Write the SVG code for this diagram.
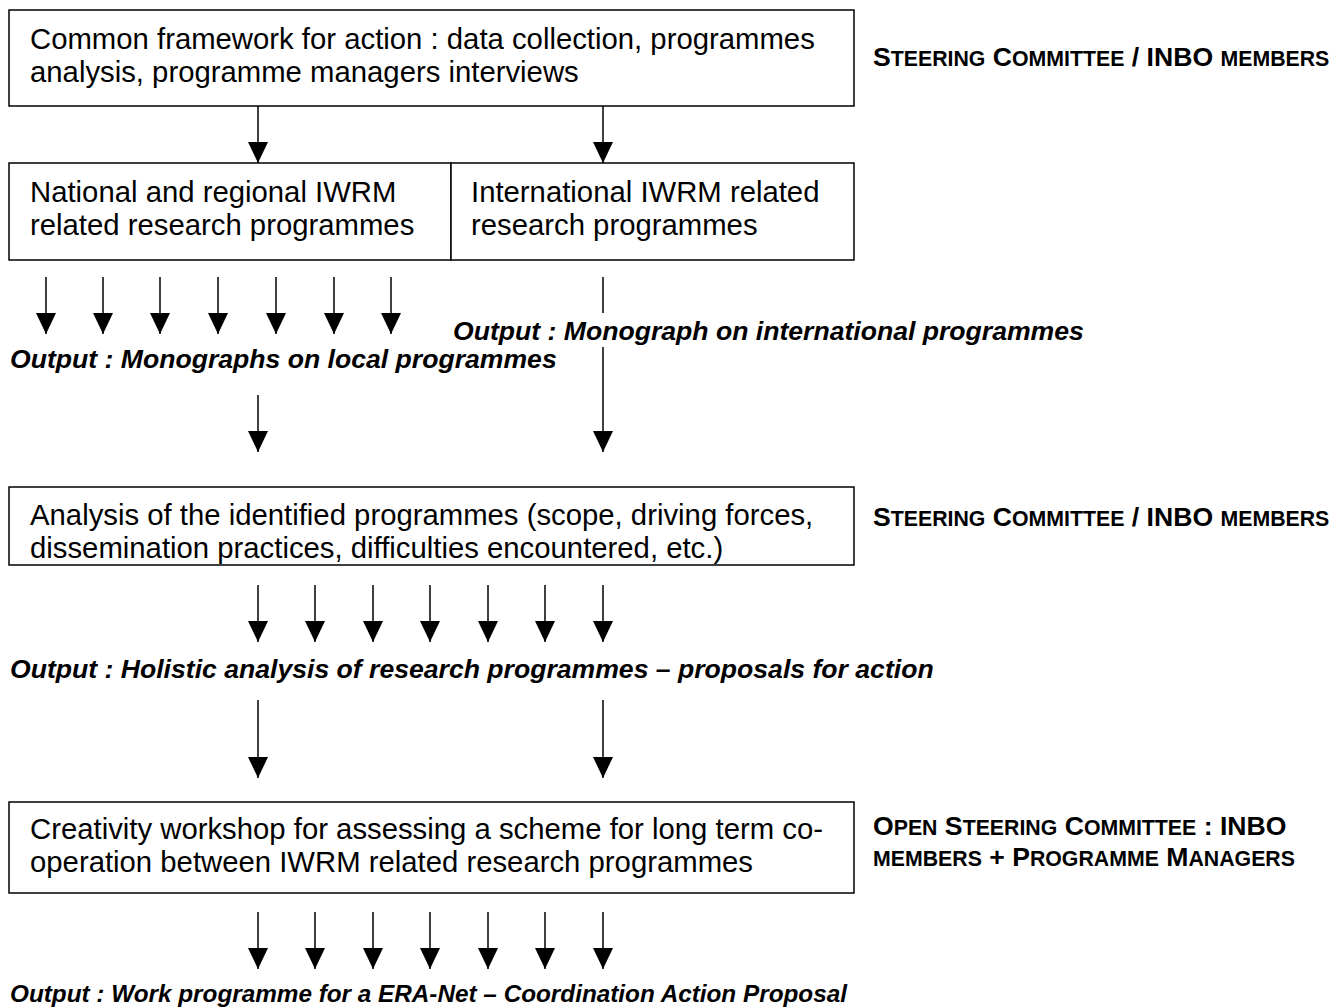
<svg xmlns="http://www.w3.org/2000/svg" width="1342" height="1007" viewBox="0 0 1342 1007">
<style>
.box{fill:#fff;stroke:#000;stroke-width:1.5}
.t{font-family:"Liberation Sans",Arial,sans-serif;font-size:29.3px;fill:#000}
.o{font-family:"Liberation Sans",Arial,sans-serif;font-size:26.6px;font-weight:bold;font-style:italic;fill:#000}
.r{font-family:"Liberation Sans",Arial,sans-serif;font-size:26.6px;font-weight:bold;fill:#000}
.sc{font-size:21.3px}
.c{stroke:#000;stroke-width:1.5;fill:none}
.a{marker-end:url(#ah)}
</style>
<defs>
<marker id="ah" markerUnits="userSpaceOnUse" markerWidth="22" markerHeight="24" refX="21" refY="10" orient="auto">
<path d="M0,0 L21,10 L0,20 Z" fill="#000"/>
</marker>
</defs>
<rect width="1342" height="1007" fill="#fff"/>

<g id="node-framework">
<rect class="box" x="9" y="10" width="845" height="96"/>
<text class="t" x="30" y="49">Common framework for action : data collection, programmes</text>
<text class="t" x="30" y="82">analysis, programme managers interviews</text>
</g>
<g id="label-steering-1">
<text class="r" x="873" y="66">S<tspan class="sc">TEERING</tspan> C<tspan class="sc">OMMITTEE</tspan> / INBO <tspan class="sc">MEMBERS</tspan></text>
</g>

<g id="node-national">
<rect class="box" x="9" y="163" width="442" height="97"/>
<text class="t" x="30" y="202">National and regional IWRM</text>
<text class="t" x="30" y="235">related research programmes</text>
</g>
<g id="node-international">
<rect class="box" x="451" y="163" width="403" height="97"/>
<text class="t" x="471" y="202">International IWRM related</text>
<text class="t" x="471" y="235">research programmes</text>
</g>

<g id="label-output-local">
<text class="o" x="10" y="368">Output : Monographs on local programmes</text>
</g>
<g id="label-output-international">
<text class="o" x="453" y="340">Output : Monograph on international programmes</text>
</g>

<g id="node-analysis">
<rect class="box" x="9" y="487" width="845" height="78"/>
<text class="t" x="30" y="525">Analysis of the identified programmes (scope, driving forces,</text>
<text class="t" x="30" y="558">dissemination practices, difficulties encountered, etc.)</text>
</g>
<g id="label-steering-2">
<text class="r" x="873" y="526">S<tspan class="sc">TEERING</tspan> C<tspan class="sc">OMMITTEE</tspan> / INBO <tspan class="sc">MEMBERS</tspan></text>
</g>

<g id="label-output-holistic">
<text class="o" x="10" y="678">Output : Holistic analysis of research programmes – proposals for action</text>
</g>

<g id="node-workshop">
<rect class="box" x="9" y="802" width="845" height="91"/>
<text class="t" x="30" y="839">Creativity workshop for assessing a scheme for long term co-</text>
<text class="t" x="30" y="872">operation between IWRM related research programmes</text>
</g>
<g id="label-open-steering">
<text class="r" x="873" y="835">O<tspan class="sc">PEN</tspan> S<tspan class="sc">TEERING</tspan> C<tspan class="sc">OMMITTEE</tspan> : INBO</text>
<text class="r" x="873" y="866"><tspan class="sc">MEMBERS</tspan> + P<tspan class="sc">ROGRAMME</tspan> M<tspan class="sc">ANAGERS</tspan></text>
</g>

<g id="label-output-work">
<text class="o" x="10" y="1002" style="font-size:24.3px">Output : Work programme for a ERA-Net – Coordination Action Proposal</text>
</g>

<g id="connectors">
<line class="c a" x1="258" y1="106" x2="258" y2="163"/>
<line class="c a" x1="603" y1="106" x2="603" y2="163"/>

<line class="c a" x1="46" y1="277" x2="46" y2="334"/>
<line class="c a" x1="103" y1="277" x2="103" y2="334"/>
<line class="c a" x1="160" y1="277" x2="160" y2="334"/>
<line class="c a" x1="218" y1="277" x2="218" y2="334"/>
<line class="c a" x1="276" y1="277" x2="276" y2="334"/>
<line class="c a" x1="334" y1="277" x2="334" y2="334"/>
<line class="c a" x1="391" y1="277" x2="391" y2="334"/>

<line class="c" x1="603" y1="277" x2="603" y2="313"/>
<line class="c a" x1="603" y1="347" x2="603" y2="452"/>
<line class="c a" x1="258" y1="395" x2="258" y2="452"/>

<line class="c a" x1="258" y1="585" x2="258" y2="642"/>
<line class="c a" x1="315" y1="585" x2="315" y2="642"/>
<line class="c a" x1="373" y1="585" x2="373" y2="642"/>
<line class="c a" x1="430" y1="585" x2="430" y2="642"/>
<line class="c a" x1="488" y1="585" x2="488" y2="642"/>
<line class="c a" x1="545" y1="585" x2="545" y2="642"/>
<line class="c a" x1="603" y1="585" x2="603" y2="642"/>

<line class="c a" x1="258" y1="700" x2="258" y2="778"/>
<line class="c a" x1="603" y1="700" x2="603" y2="778"/>

<line class="c a" x1="258" y1="912" x2="258" y2="969"/>
<line class="c a" x1="315" y1="912" x2="315" y2="969"/>
<line class="c a" x1="373" y1="912" x2="373" y2="969"/>
<line class="c a" x1="430" y1="912" x2="430" y2="969"/>
<line class="c a" x1="488" y1="912" x2="488" y2="969"/>
<line class="c a" x1="545" y1="912" x2="545" y2="969"/>
<line class="c a" x1="603" y1="912" x2="603" y2="969"/>
</g>
</svg>
